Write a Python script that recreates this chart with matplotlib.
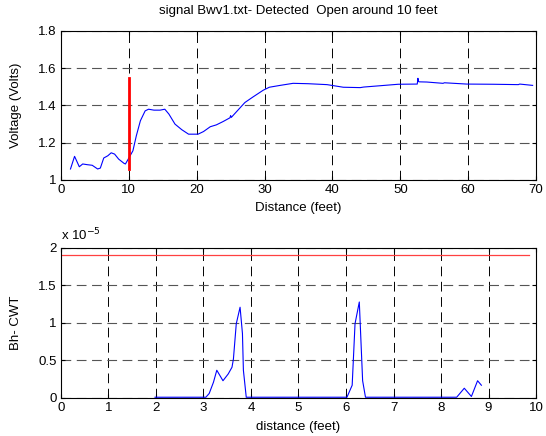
import numpy as np
import matplotlib
matplotlib.use('Agg')
import matplotlib.pyplot as plt

plt.rcParams['font.family'] = ['Liberation Sans', 'DejaVu Sans']
plt.rcParams['font.size'] = 9.5
plt.rcParams['lines.scale_dashes'] = False

# 上图：电压随距离变化
dist = [1.4, 2.0, 2.4, 2.7, 3.2, 3.9, 4.6, 5.4, 5.8, 6.3, 6.9, 7.4, 7.9, 8.5,
        9.3, 9.5, 10.0, 10.6, 11.1, 11.7, 12.4, 12.9, 13.7, 14.6, 15.3, 15.9,
        16.8, 17.8, 18.8, 20.2, 21.0, 22.0, 22.9, 23.9, 24.9, 25.0, 25.1, 25.9,
        27.1, 28.3, 29.8, 30.7, 32.3, 34.2, 36.4, 39.2, 39.9, 41.6, 44.1, 44.6,
        47.0, 49.7, 52.5, 52.6, 52.7, 52.8, 53.9, 56.3, 56.5, 59.8, 63.7, 67.4,
        67.6, 69.5]
volt = [1.059, 1.127, 1.095, 1.071, 1.086, 1.082, 1.079, 1.059, 1.064, 1.118,
        1.130, 1.146, 1.139, 1.112, 1.089, 1.086, 1.118, 1.157, 1.237, 1.318,
        1.371, 1.380, 1.375, 1.375, 1.380, 1.354, 1.300, 1.270, 1.246, 1.246,
        1.260, 1.286, 1.296, 1.314, 1.334, 1.346, 1.336, 1.368, 1.416, 1.446,
        1.482, 1.498, 1.508, 1.519, 1.517, 1.512, 1.508, 1.498, 1.496, 1.499,
        1.506, 1.514, 1.515, 1.546, 1.528, 1.527, 1.526, 1.519, 1.522, 1.515,
        1.514, 1.512, 1.515, 1.508]
open_x = 9.95
open_y = [1.06, 1.545]

# 下图：CWT 系数 (单位 1e-5)
d2 = [1.98, 3.05, 3.12, 3.21, 3.28, 3.41, 3.52, 3.60, 3.63, 3.69, 3.77, 3.82,
      3.84, 3.90, 6.02, 6.13, 6.19, 6.28, 6.35, 6.41, 8.33, 8.49, 8.64, 8.77,
      8.85]
cwt = [0.01, 0.01, 0.06, 0.21, 0.37, 0.23, 0.32, 0.41, 0.52, 0.99, 1.21, 0.86,
       0.37, 0.01, 0.01, 0.17, 0.99, 1.28, 0.23, 0.01, 0.01, 0.13, 0.02, 0.23,
       0.17]
thresh = 1.9
thresh_x = [0, 9.85]

fig = plt.figure(figsize=(5.46, 4.36), dpi=100)
ax1 = fig.add_axes([0.1117, 0.5872, 0.870, 0.3417])
ax2 = fig.add_axes([0.1117, 0.0872, 0.870, 0.344])

for ax in (ax1, ax2):
    ax.grid(True, axis='x', color='black', linestyle=(0, (7, 4)), linewidth=0.7)
    ax.grid(True, axis='y', color='#555555', linestyle=(0, (7, 4)), linewidth=0.8)
    ax.tick_params(direction='in', length=3, top=True, right=True, labelsize=9.5, pad=3)
    for s in ax.spines.values():
        s.set_linewidth(0.8)

ax1.plot(dist, volt, color='blue', linewidth=0.8)
ax1.plot([open_x, open_x], open_y, color='red', linewidth=2)
ax1.set_xlim(0, 70)
ax1.set_ylim(1, 1.8)
ax1.set_xticks(np.arange(0, 71, 10))
ax1.set_yticks([1, 1.2, 1.4, 1.6, 1.8])
ax1.set_yticklabels(['1', '1.2', '1.4', '1.6', '1.8'])
ax1.set_title('signal Bwv1.txt- Detected  Open around 10 feet', fontsize=9.5, pad=12)
ax1.set_xlabel('Distance (feet)', labelpad=4)
ax1.set_ylabel('Voltage (Volts)', labelpad=12)

ax2.plot(d2, cwt, color='blue', linewidth=0.8)
ax2.plot(thresh_x, [thresh, thresh], color='#ff4040', linewidth=0.9)
ax2.set_xlim(0, 10)
ax2.set_ylim(0, 2)
ax2.set_xticks(np.arange(0, 11, 1))
ax2.set_yticks([0, 0.5, 1, 1.5, 2])
ax2.set_yticklabels(['0', '0.5', '1', '1.5', '2'])
ax2.text(0.0, 1.03, r'x 10$^{-5}$', transform=ax2.transAxes, fontsize=9.5, va='bottom')
ax2.set_xlabel('distance (feet)', labelpad=5)
ax2.set_ylabel('Bh- CWT', labelpad=12)

fig.savefig('out.png', dpi=100)
